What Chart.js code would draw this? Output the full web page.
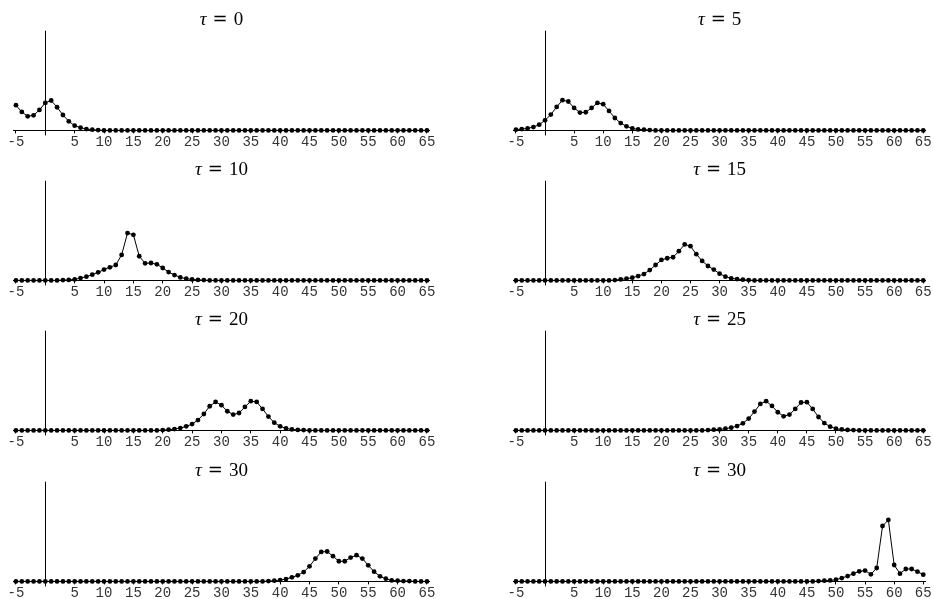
<!DOCTYPE html>
<html>
<head>
<meta charset="utf-8">
<script src="https://cdn.jsdelivr.net/npm/chart.js@4.4.0/dist/chart.umd.min.js"></script>
<style>
  body { margin: 0; background: #fff; }
  #wrap { position: relative; width: 934px; height: 599px; overflow: hidden; }
  .panel { position: absolute; width: 467px; height: 152px; }
</style>
</head>
<body>
<div id="wrap"></div>
<script>
// positions along the chain
var xValues = [
  -5, -4, -3, -2, -1, 0, 1, 2, 3, 4,
  5, 6, 7, 8, 9, 10, 11, 12, 13, 14,
  15, 16, 17, 18, 19, 20, 21, 22, 23, 24,
  25, 26, 27, 28, 29, 30, 31, 32, 33, 34,
  35, 36, 37, 38, 39, 40, 41, 42, 43, 44,
  45, 46, 47, 48, 49, 50, 51, 52, 53, 54,
  55, 56, 57, 58, 59, 60, 61, 62, 63, 64,
  65
];

var tickValues = [-5, 5, 10, 15, 20, 25, 30, 35, 40, 45, 50, 55, 60, 65];

var tauLabels = ["0", "5", "10", "15", "20", "25", "30", "30"];

// one row per 10 positions (-5..4, 5..14, ... , 65)
var tau0 = [
  25, 18.3, 14, 15, 20.3, 27.3, 29.7, 23, 15.3, 9,
  4.7, 2.7, 1.3, 0.7, 0.3, 0, 0, 0, 0, 0,
  0, 0, 0, 0, 0, 0, 0, 0, 0, 0,
  0, 0, 0, 0, 0, 0, 0, 0, 0, 0,
  0, 0, 0, 0, 0, 0, 0, 0, 0, 0,
  0, 0, 0, 0, 0, 0, 0, 0, 0, 0,
  0, 0, 0, 0, 0, 0, 0, 0, 0, 0,
  0
];

var tau5 = [
  0.7, 1.3, 2, 3.3, 5.7, 10, 15.7, 23.3, 30, 28.7,
  22.3, 17.7, 18, 22.3, 27.3, 26, 19.3, 12.3, 7.3, 4,
  2, 1, 0.7, 0.3, 0, 0, 0, 0, 0, 0,
  0, 0, 0, 0, 0, 0, 0, 0, 0, 0,
  0, 0, 0, 0, 0, 0, 0, 0, 0, 0,
  0, 0, 0, 0, 0, 0, 0, 0, 0, 0,
  0, 0, 0, 0, 0, 0, 0, 0, 0, 0,
  0
];

var tau10 = [
  0, 0, 0, 0, 0, 0, 0, 0, 0.3, 0.5,
  1, 2.3, 3.7, 5.7, 8, 10.7, 13, 15.3, 25.3, 47,
  45.3, 24, 17, 17.3, 16, 12.3, 8.3, 5.3, 3, 1.7,
  1, 0.5, 0.3, 0, 0, 0, 0, 0, 0, 0,
  0, 0, 0, 0, 0, 0, 0, 0, 0, 0,
  0, 0, 0, 0, 0, 0, 0, 0, 0, 0,
  0, 0, 0, 0, 0, 0, 0, 0, 0, 0,
  0
];

var tau15 = [
  0, 0, 0, 0, 0, 0, 0, 0, 0, 0,
  0, 0, 0, 0, 0, 0, 0, 0.3, 1, 1.7,
  2.7, 4.3, 6.3, 10.3, 15.3, 20.3, 22, 23, 29, 35.7,
  34, 26, 19.3, 14.3, 10.7, 6.7, 3.7, 2, 1.3, 0.7,
  0.3, 0, 0, 0, 0, 0, 0, 0, 0, 0,
  0, 0, 0, 0, 0, 0, 0, 0, 0, 0,
  0, 0, 0, 0, 0, 0, 0, 0, 0, 0,
  0
];

var tau20 = [
  0, 0, 0, 0, 0, 0, 0, 0, 0, 0,
  0, 0, 0, 0, 0, 0, 0, 0, 0, 0,
  0, 0, 0, 0, 0, 0.3, 0.7, 1.3, 2.3, 4,
  6.3, 10.3, 16.3, 24, 28.3, 25, 19, 15.7, 17.3, 23.3,
  29, 28.3, 21.3, 13.7, 7.7, 4, 2, 1, 0.5, 0.3,
  0, 0, 0, 0, 0, 0, 0, 0, 0, 0,
  0, 0, 0, 0, 0, 0, 0, 0, 0, 0,
  0
];

var tau25 = [
  0, 0, 0, 0, 0, 0, 0, 0, 0, 0,
  0, 0, 0, 0, 0, 0, 0, 0, 0, 0,
  0, 0, 0, 0, 0, 0, 0, 0, 0, 0,
  0, 0, 0, 0.3, 0.7, 1, 1.7, 2.7, 4.3, 7,
  11.7, 18.7, 26.3, 29, 24.3, 18, 14, 15.7, 21.3, 27.7,
  28, 21.3, 13.3, 7.3, 3.7, 1.7, 1, 0.5, 0.3, 0,
  0, 0, 0, 0, 0, 0, 0, 0, 0, 0,
  0
];

var tau30a = [
  0, 0, 0, 0, 0, 0, 0, 0, 0, 0,
  0, 0, 0, 0, 0, 0, 0, 0, 0, 0,
  0, 0, 0, 0, 0, 0, 0, 0, 0, 0,
  0, 0, 0, 0, 0, 0, 0, 0, 0, 0,
  0, 0, 0, 0.3, 0.7, 1.3, 2.3, 4, 6, 9.3,
  15, 22.7, 29.3, 29.7, 25, 20, 20, 23.7, 26, 22.7,
  16, 9.7, 5, 2.7, 1, 0.7, 0.3, 0.3, 0, 0,
  0
];

var tau30b = [
  0, 0, 0, 0, 0, 0, 0, 0, 0, 0,
  0, 0, 0, 0, 0, 0, 0, 0, 0, 0,
  0, 0, 0, 0, 0, 0, 0, 0, 0, 0,
  0, 0, 0, 0, 0, 0, 0, 0, 0, 0,
  0, 0, 0, 0, 0, 0, 0, 0, 0, 0,
  0, 0, 0.3, 0.7, 1, 1.7, 3.3, 5.3, 7.7, 10,
  10.7, 7, 13.3, 55, 61, 16.3, 7.7, 12.3, 12.3, 9.7,
  6.7
];

var series = [tau0, tau5, tau10, tau15, tau20, tau25, tau30a, tau30b];

var panelTops = [0, 150, 300, 451];

// "τ = n" heading, tau in italics
var tauTitle = {
  id: "tauTitle",
  afterDraw: function (chart, args, opts) {
    var ctx = chart.ctx;
    var area = chart.chartArea;
    var fTau = "italic 19px 'Liberation Serif'";
    var fEq = "18px 'DejaVu Serif'";
    var fNum = "19px 'Liberation Serif'";
    ctx.save();
    ctx.fillStyle = "#000";
    ctx.textBaseline = "alphabetic";
    ctx.textAlign = "left";
    ctx.font = fTau;
    var wT = ctx.measureText("τ").width;
    ctx.font = fEq;
    var wE = ctx.measureText("=").width;
    ctx.font = fNum;
    var wN = ctx.measureText(opts.text).width;
    var gap = 6;
    var total = wT + gap + wE + gap + wN;
    var x = (area.left + area.right) / 2 - total / 2;
    var y = 24.5;
    ctx.font = fTau;
    ctx.fillText("τ", x, y);
    x += wT + gap;
    ctx.font = fEq;
    ctx.fillText("=", x, y);
    x += wE + gap;
    ctx.font = fNum;
    ctx.fillText(opts.text, x, y);
    ctx.restore();
  }
};

// vertical axis drawn at x = 0
var zeroAxis = {
  id: "zeroAxis",
  beforeDatasetsDraw: function (chart) {
    var ctx = chart.ctx;
    var xs = chart.scales.x;
    var area = chart.chartArea;
    var px = Math.round(xs.getPixelForValue(0)) + 0.5;
    ctx.save();
    ctx.strokeStyle = "#000";
    ctx.lineWidth = 1;
    ctx.beginPath();
    ctx.moveTo(px, area.top);
    ctx.lineTo(px, area.bottom + 5);
    ctx.stroke();
    ctx.restore();
  }
};

var wrap = document.getElementById("wrap");

for (var i = 0; i < series.length; i++) {
  var col = i % 2;
  var row = Math.floor(i / 2);

  var div = document.createElement("div");
  div.className = "panel";
  div.style.left = (col * 467) + "px";
  div.style.top = panelTops[row] + "px";
  var canvas = document.createElement("canvas");
  canvas.width = 467;
  canvas.height = 152;
  div.appendChild(canvas);
  wrap.appendChild(div);

  var values = series[i];
  var points = xValues.map(function (x, k) {
    return { x: x, y: values[k] };
  });

  new Chart(canvas.getContext("2d"), {
    type: "line",
    data: {
      datasets: [
        {
          data: points,
          borderColor: "#000",
          borderWidth: 1,
          tension: 0,
          pointRadius: 2.4,
          pointBackgroundColor: "#000",
          pointBorderWidth: 0,
          clip: false,
          fill: false,
        },
      ],
    },
    options: {
      responsive: false,
      animation: false,
      layout: {
        padding: col === 0
          ? { top: 30.7, left: 13.6, right: 37.7, bottom: 0 }
          : { top: 30.7, left: 46.6, right: 5.7, bottom: 0 },
      },
      plugins: {
        legend: { display: false },
        tooltip: { enabled: false },
        tauTitle: { text: tauLabels[i] },
      },
      scales: {
        x: {
          type: "linear",
          min: -5.4,
          max: 65.4,
          afterBuildTicks: function (scale) {
            scale.ticks = tickValues.map(function (v) { return { value: v }; });
          },
          grid: {
            display: true,
            drawOnChartArea: false,
            drawTicks: true,
            tickLength: 3,
            color: "#000",
          },
          border: { display: true, color: "#000", width: 1 },
          ticks: {
            autoSkip: false,
            maxRotation: 0,
            padding: 2.3,
            color: "#333",
            font: { family: "Liberation Mono", size: 14, lineHeight: 1 },
            callback: function (v) { return String(v); },
          },
        },
        y: {
          display: false,
          min: 0,
          max: 99,
        },
      },
    },
    plugins: [tauTitle, zeroAxis],
  });
}
</script>
</body>
</html>
